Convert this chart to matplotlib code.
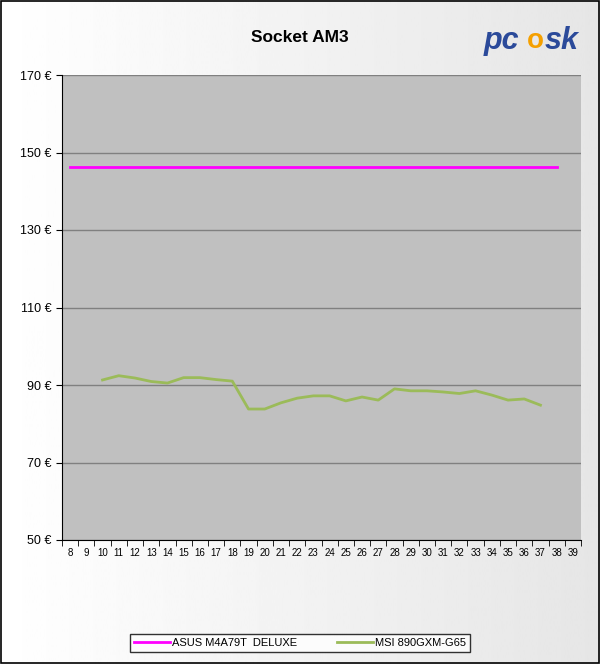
import numpy as np
import matplotlib.pyplot as plt
from matplotlib.patches import Rectangle

plt.rcParams['font.family'] = ['Liberation Sans', 'DejaVu Sans']

# chart data
weeks = list(range(8, 40))
asus_weeks = list(range(8, 39))
asus_price = [146.3] * len(asus_weeks)
msi_weeks = list(range(10, 38))
msi_price = [91.3, 92.4, 91.8, 90.9, 90.5, 91.9, 91.9, 91.4, 91.0,
             83.8, 83.8, 85.4, 86.6, 87.2, 87.2, 85.9, 86.9, 86.1,
             89.0, 88.5, 88.5, 88.2, 87.8, 88.5, 87.4, 86.1, 86.4, 84.8]
y_ticks = [50, 70, 90, 110, 130, 150, 170]

fig = plt.figure(figsize=(6, 6.64), dpi=100)

# gradient background
bg = fig.add_axes([0, 0, 1, 1], zorder=-5)
grad = np.linspace(1.0, 0.9, 256).reshape(1, -1)
bg.imshow(grad, cmap='gray', vmin=0, vmax=1, aspect='auto', extent=[0, 1, 0, 1])
bg.set_axis_off()
fig.patches.append(Rectangle((0.001, 0.001), 0.997, 0.997, transform=fig.transFigure,
                             fill=False, edgecolor='black', linewidth=1.2))

ax = fig.add_axes([62 / 600, 1 - 540 / 664, (581 - 62) / 600, (540 - 75) / 664])
ax.set_facecolor('#C0C0C0')

pos = {w: i for i, w in enumerate(weeks)}
ax.plot([pos[w] for w in asus_weeks], asus_price, color='#FF00FF', lw=2,
        label='ASUS M4A79T  DELUXE', zorder=3)
ax.plot([pos[w] for w in msi_weeks], msi_price, color='#9BBB59', lw=2,
        label='MSI 890GXM-G65', zorder=3)

ax.set_xlim(-0.5, len(weeks) - 0.5)
ax.set_ylim(50, 170)
ax.set_yticks(y_ticks)
ax.set_yticklabels([f'{v} €' for v in y_ticks], fontsize=9)
ax.yaxis.grid(True, color='#808080', lw=1)
ax.set_axisbelow(True)

ax.set_xticks(range(len(weeks)))
ax.set_xticklabels([str(w) for w in weeks], fontsize=7)
ax.set_xticks(np.arange(-0.5, len(weeks)), minor=True)
ax.tick_params(axis='x', which='major', length=0, pad=6)
ax.tick_params(axis='x', which='minor', length=4, direction='out')
ax.tick_params(axis='y', length=4, direction='out')

for s in ['top', 'right']:
    ax.spines[s].set_visible(False)
ax.spines['left'].set_color('black')
ax.spines['bottom'].set_color('black')

fig.text(0.5, 1 - 38 / 664, 'Socket AM3', ha='center', va='center',
         fontsize=12.5, fontweight='bold')

# logo
fig.text(484 / 600, 1 - 41 / 664, 'pc', ha='left', va='center', fontsize=22,
         fontweight='bold', style='italic', color='#2B4A9A')
fig.text(527 / 600, 1 - 41 / 664, 'o', ha='left', va='center', fontsize=20,
         fontweight='bold', color='#F5A000')
fig.text(545 / 600, 1 - 41 / 664, 'sk', ha='left', va='center', fontsize=22,
         fontweight='bold', style='italic', color='#2B4A9A')

leg = fig.legend(loc='center', bbox_to_anchor=(0.5, 1 - 643 / 664), ncol=2,
                 fontsize=8, frameon=True, fancybox=False, edgecolor='black',
                 borderpad=0.4, handlelength=3.2, columnspacing=3.6,
                 handletextpad=0.2, borderaxespad=0)
leg.get_frame().set_linewidth(1)
leg.get_frame().set_facecolor('white')

fig.savefig('out.png', dpi=100)
